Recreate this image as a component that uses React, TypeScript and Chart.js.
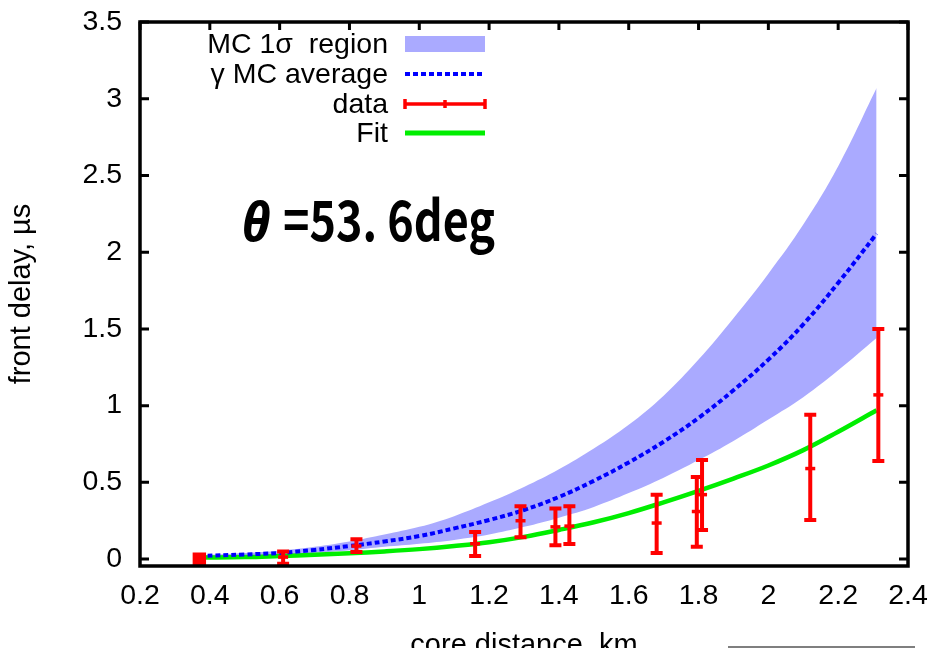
import React, { useEffect, useRef } from 'react';
import { Chart, registerables } from 'chart.js';

Chart.register(...registerables);

// MC curves sampled along core distance (km)
const curveX = [0.37, 0.5, 0.6, 0.7, 0.8, 0.9, 1.0, 1.1, 1.2, 1.3, 1.4, 1.5, 1.6, 1.7, 1.8, 1.9, 2.0, 2.1, 2.2, 2.31];
const mcAverage = [0.02, 0.03, 0.04, 0.06, 0.085, 0.115, 0.15, 0.2, 0.255, 0.32, 0.405, 0.51, 0.63, 0.765, 0.92, 1.1, 1.3, 1.53, 1.8, 2.12];
const mcUpper = [0.025, 0.04, 0.055, 0.08, 0.115, 0.16, 0.21, 0.28, 0.37, 0.47, 0.585, 0.72, 0.875, 1.065, 1.3, 1.57, 1.86, 2.18, 2.56, 3.07];
const mcLower = [0.012, 0.018, 0.027, 0.04, 0.057, 0.08, 0.1, 0.125, 0.16, 0.21, 0.27, 0.34, 0.43, 0.53, 0.645, 0.77, 0.91, 1.055, 1.23, 1.44];
const fitValues = [0.01, 0.013, 0.02, 0.028, 0.038, 0.05, 0.065, 0.085, 0.11, 0.145, 0.19, 0.24, 0.3, 0.37, 0.445, 0.525, 0.61, 0.71, 0.83, 0.97];

// measured data with error bars
const dataX = [0.37, 0.61, 0.82, 1.16, 1.29, 1.39, 1.43, 1.68, 1.795, 1.81, 2.12, 2.315];
const dataY = [0.0, 0.013, 0.085, 0.1, 0.25, 0.21, 0.215, 0.235, 0.31, 0.42, 0.59, 1.07];
const dataLow = [-0.01, -0.03, 0.046, 0.02, 0.143, 0.09, 0.098, 0.04, 0.08, 0.19, 0.254, 0.64];
const dataHigh = [0.01, 0.05, 0.13, 0.176, 0.345, 0.33, 0.345, 0.42, 0.535, 0.645, 0.94, 1.5];

const xTicks = [0.2, 0.4, 0.6, 0.8, 1, 1.2, 1.4, 1.6, 1.8, 2, 2.2, 2.4];
const yTicks = [0, 0.5, 1, 1.5, 2, 2.5, 3, 3.5];

const legendLabels = ['MC 1\u03c3  region', '\u03b3 MC average', 'data', 'Fit'];
const angleLabel = '=53. 6deg';

const BAND = 'rgb(170,170,255)';
const BLUE = '#0000ff';
const GREEN = '#00ee00';
const RED = '#ff0000';
const FONT = '"Liberation Sans", Arial, sans-serif';

const decor = {
  id: 'decor',
  afterDatasetsDraw(chart: any) {
    const { ctx, scales } = chart;
    const xs = scales.x, ys = scales.y;
    ctx.save();
    ctx.strokeStyle = RED;
    ctx.lineWidth = 4;
    dataX.forEach((xv, i) => {
      if (i === 0) return;
      const px = xs.getPixelForValue(xv);
      const lo = ys.getPixelForValue(dataLow[i]);
      const hi = ys.getPixelForValue(dataHigh[i]);
      ctx.beginPath();
      ctx.moveTo(px, lo); ctx.lineTo(px, hi);
      ctx.moveTo(px - 6, lo); ctx.lineTo(px + 6, lo);
      ctx.moveTo(px - 6, hi); ctx.lineTo(px + 6, hi);
      ctx.stroke();
    });
    ctx.restore();
  },
  afterDraw(chart: any) {
    const { ctx, chartArea, scales } = chart;
    const { left, right, top, bottom } = chartArea;
    const xs = scales.x, ys = scales.y;
    ctx.save();
    // frame
    ctx.strokeStyle = '#000';
    ctx.lineWidth = 3.5;
    ctx.strokeRect(left, top, right - left, bottom - top);
    // inward ticks
    ctx.lineWidth = 3;
    ctx.beginPath();
    yTicks.forEach((v) => {
      const py = ys.getPixelForValue(v);
      ctx.moveTo(left, py); ctx.lineTo(left + 9, py);
      ctx.moveTo(right, py); ctx.lineTo(right - 9, py);
    });
    xTicks.forEach((v) => {
      const px = xs.getPixelForValue(v);
      ctx.moveTo(px, top); ctx.lineTo(px, top + 8);
    });
    ctx.stroke();

    // legend
    const rows = [44, 74, 104, 133];
    const tx = 388, s0 = 405, s1 = 485;
    ctx.font = `28.5px ${FONT}`;
    ctx.fillStyle = '#000';
    ctx.textAlign = 'right';
    ctx.textBaseline = 'middle';
    legendLabels.forEach((t, i) => ctx.fillText(t, tx, rows[i] + 1));
    ctx.fillStyle = BAND;
    ctx.fillRect(s0, rows[0] - 8, s1 - s0, 16);
    ctx.strokeStyle = BLUE;
    ctx.lineWidth = 4;
    ctx.setLineDash([5, 3]);
    ctx.beginPath(); ctx.moveTo(s0, rows[1]); ctx.lineTo(s1, rows[1]); ctx.stroke();
    ctx.setLineDash([]);
    ctx.strokeStyle = RED;
    ctx.lineWidth = 3.5;
    ctx.beginPath();
    ctx.moveTo(s0, rows[2]); ctx.lineTo(s1, rows[2]);
    ctx.moveTo(s0, rows[2] - 5); ctx.lineTo(s0, rows[2] + 5);
    ctx.moveTo(s1, rows[2] - 5); ctx.lineTo(s1, rows[2] + 5);
    ctx.moveTo((s0 + s1) / 2, rows[2] - 4); ctx.lineTo((s0 + s1) / 2, rows[2] + 4);
    ctx.stroke();
    ctx.strokeStyle = GREEN;
    ctx.lineWidth = 5;
    ctx.beginPath(); ctx.moveTo(s0, rows[3]); ctx.lineTo(s1, rows[3]); ctx.stroke();

    // angle annotation
    ctx.fillStyle = '#000';
    ctx.textAlign = 'left';
    ctx.textBaseline = 'alphabetic';
    ctx.font = `italic bold 54px "Noto Sans", ${FONT}`;
    ctx.fillText('\u03b8', 242, 241, 28);
    ctx.font = 'bold 56px "Noto Sans CJK JP", "Noto Sans", sans-serif';
    ctx.fillText(angleLabel, 283, 241, 212);

    // stray rule at bottom right
    ctx.strokeStyle = '#555';
    ctx.lineWidth = 1.5;
    ctx.beginPath(); ctx.moveTo(728, 647); ctx.lineTo(915, 647); ctx.stroke();
    ctx.restore();
  },
};

export default function App() {
  const ref = useRef<HTMLCanvasElement>(null);
  useEffect(() => {
    if (!ref.current) return;
    const pts = (ys: number[]) => curveX.map((x, i) => ({ x, y: ys[i] }));
    const chart = new Chart(ref.current, {
      type: 'line',
      data: {
        datasets: [
          {
            label: 'data',
            data: dataX.map((x, i) => ({ x, y: dataY[i] })),
            showLine: false,
            borderColor: RED,
            backgroundColor: RED,
            pointStyle: dataX.map((_, i) => (i === 0 ? 'rect' : 'line')) as any,
            pointRadius: dataX.map((_, i) => (i === 0 ? 7 : 5)),
            pointBorderWidth: 3.5,
            pointBackgroundColor: RED,
            pointBorderColor: RED,
          },
          {
            label: 'MC average',
            data: pts(mcAverage),
            borderColor: BLUE,
            borderWidth: 4,
            borderDash: [5, 3],
            pointRadius: 0,
            fill: false,
            tension: 0.4,
          },
          {
            label: 'Fit',
            data: pts(fitValues),
            borderColor: GREEN,
            borderWidth: 4.5,
            pointRadius: 0,
            fill: false,
            tension: 0.4,
          },
          {
            label: 'upper',
            data: pts(mcUpper),
            borderWidth: 0,
            borderColor: BAND,
            backgroundColor: BAND,
            pointRadius: 0,
            fill: '+1',
            tension: 0.4,
          },
          {
            label: 'lower',
            data: pts(mcLower),
            borderWidth: 0,
            borderColor: BAND,
            pointRadius: 0,
            fill: false,
            tension: 0.4,
          },
        ],
      },
      options: {
        animation: false,
        responsive: false,
        layout: { padding: { left: 0, right: 27, top: 22, bottom: 0 } },
        plugins: { legend: { display: false }, tooltip: { enabled: false } },
        scales: {
          x: {
            type: 'linear',
            min: 0.2,
            max: 2.4,
            afterBuildTicks: (s: any) => { s.ticks = xTicks.map((v) => ({ value: v })); },
            afterFit: (s: any) => { s.height = 124; s.paddingLeft = 0; s.paddingRight = 0; },
            grid: { display: false, drawTicks: false },
            border: { display: false },
            ticks: {
              padding: 13,
              color: '#000',
              font: { family: FONT, size: 28.5 },
              maxRotation: 0,
              autoSkip: false,
              callback: (v: any) => String(v),
            },
            title: {
              display: true,
              text: 'core distance, km',
              color: '#000',
              font: { family: FONT, size: 29 },
              padding: { top: 0, bottom: 27 },
            },
          },
          y: {
            type: 'linear',
            min: -0.045,
            max: 3.5,
            afterBuildTicks: (s: any) => { s.ticks = yTicks.map((v) => ({ value: v })); },
            afterFit: (s: any) => { s.width = 140; s.paddingTop = 0; s.paddingBottom = 0; },
            grid: { display: false, drawTicks: false },
            border: { display: false },
            ticks: {
              padding: 18,
              color: '#000',
              font: { family: FONT, size: 28.5 },
              autoSkip: false,
              callback: (v: any) => String(v),
            },
            title: {
              display: true,
              text: 'front delay, \u00b5s',
              color: '#000',
              font: { family: FONT, size: 29 },
              padding: { top: 5, bottom: 0 },
            },
          },
        },
      },
      plugins: [decor],
    });
    return () => chart.destroy();
  }, []);
  return (
    <div style={{ position: 'absolute', left: 0, top: 0, width: 935, height: 648, overflow: 'hidden', background: '#fff' }}>
      <canvas ref={ref} width={935} height={690} style={{ display: 'block' }} />
    </div>
  );
}
